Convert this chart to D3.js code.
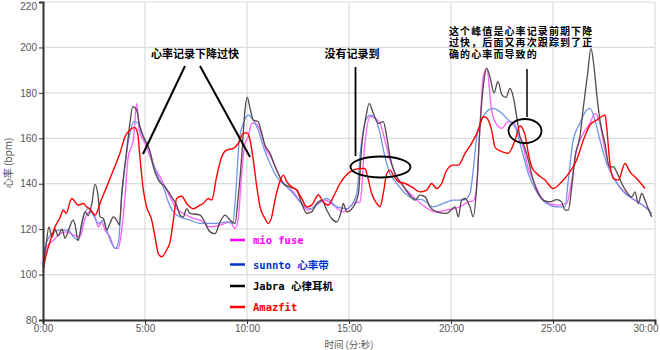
<!DOCTYPE html>
<html><head><meta charset="utf-8">
<script src="https://cdn.jsdelivr.net/npm/d3@7"></script>
<style>
html,body{margin:0;padding:0;background:#fff;}
svg{display:block;}
</style></head>
<body>
<svg id="chart" width="660" height="350"></svg>
<script>
// ---- data (time in minutes, heart rate in bpm) ----
const seriesNames = ["mio fuse", "sunnto 心率带", "Jabra 心律耳机", "Amazfit"];
const xTickValues = [0, 5, 10, 15, 20, 25, 30];
const yTickValues = [80, 100, 120, 140, 160, 180, 200, 220];

const mioFuse = [[0,103],[0.18,112],[0.5,115],[0.83,118],[1.16,118.8],[1.49,117.4],[1.81,116.6],[2.06,124.7],[2.3,127.6],[2.55,125.4],[2.71,121],[2.88,123.2],[3.04,119.6],[3.28,116.6],[3.53,111.5],[3.69,111.5],[3.86,119.6],[4.02,134.2],[4.18,151.9],[4.43,159.2],[4.59,175.4],[4.72,163.6],[5.0,157.8],[5.25,151.9],[5.49,146.7],[5.74,143],[5.98,138.6],[6.23,134.2],[6.55,129],[6.88,126.9],[7.37,124.7],[7.7,124],[8.19,121],[8.68,121.8],[9.17,123.2],[9.41,120.3],[9.57,124.7],[9.74,144.5],[9.9,157.8],[10.06,160.7],[10.23,166.6],[10.39,166.6],[10.64,163.6],[10.88,156.3],[11.21,151.1],[11.53,144.5],[11.95,138.6],[12.27,136.4],[12.6,132],[13.01,128.4],[13.42,130.6],[13.82,132.8],[14.23,130.6],[14.72,127.6],[15.21,131.3],[15.54,132],[15.78,157.8],[16.03,169.5],[16.27,168.8],[16.52,166.6],[16.76,159.2],[17.01,150.4],[17.34,143],[17.75,137.9],[18.24,133.5],[18.73,129.8],[19.22,127.6],[19.79,128.4],[20.44,129.8],[20.85,132],[21.09,132.5],[21.26,138.6],[21.42,165],[21.58,187.1],[21.75,190.8],[21.99,172.4],[22.24,166],[22.49,164.4],[22.81,167.3],[23.05,167],[23.3,162.2],[23.54,156.3],[23.79,146.7],[24.03,141.6],[24.36,135],[24.77,131.3],[25.25,130.6],[25.67,131.3],[25.92,141.6],[26.16,154.8],[26.49,162.2],[26.81,166.6],[27.06,171],[27.3,166.6],[27.55,154.8],[27.88,144.5],[28.28,138.6],[28.77,134.2],[29.26,131.3],[29.75,128.4]];

const sunnto = [[0,104],[0.1,112],[0.43,118],[0.83,119.6],[1.24,119.6],[1.49,116.6],[1.73,115.2],[1.98,125.4],[2.22,129],[2.47,126.2],[2.71,122.5],[2.96,124],[3.12,119.6],[3.37,113.7],[3.53,111.5],[3.69,113.7],[3.86,134.2],[4.07,151.9],[4.26,162.2],[4.46,167.3],[4.67,166.6],[4.92,160.7],[5.16,156.3],[5.41,148.9],[5.65,143],[5.9,138.6],[6.14,132],[6.39,127.6],[6.72,125.4],[7.21,124],[7.7,122.5],[8.51,122.5],[9.0,123.2],[9.3,122.5],[9.46,137.2],[9.62,159.2],[9.82,166.6],[10.06,170.2],[10.31,168],[10.55,163.6],[10.8,156.3],[11.13,148.9],[11.46,143],[11.86,139.4],[12.27,135.7],[12.68,131.3],[13.09,129],[13.58,132],[13.91,133.5],[14.4,129.8],[14.89,129],[15.05,129.8],[15.38,135.7],[15.57,154.8],[15.78,166.6],[16.03,170.2],[16.27,169],[16.52,162.2],[16.76,151.9],[17.01,144.5],[17.34,140.1],[17.75,135.7],[18.15,133.5],[18.64,132.8],[19.13,129.8],[19.62,131.3],[20.11,132.8],[20.6,132.8],[20.93,135.7],[21.09,146],[21.26,160.7],[21.5,168],[21.83,172.4],[22.07,173.2],[22.4,171.7],[22.81,168],[23.14,165],[23.47,154.8],[23.79,144.5],[24.2,136.4],[24.69,131.3],[25.18,129.8],[25.59,129.8],[25.75,141.6],[25.99,159.2],[26.32,166.6],[26.65,172.4],[26.81,173.2],[27.06,168],[27.3,159.2],[27.63,149],[28.04,141.6],[28.53,135.7],[29.02,132.8],[29.51,129.8],[29.84,126.9]];

const jabra = [[0,103],[0.15,113],[0.29,121],[0.44,116.5],[0.59,120],[0.74,117],[0.93,120],[1.08,116],[1.27,120],[1.47,124],[1.57,122],[1.72,115],[1.9,122.6],[2.06,127.6],[2.22,126],[2.39,131],[2.55,139.7],[2.71,134],[2.79,125.4],[2.96,124.7],[3.12,119.6],[3.28,122.5],[3.45,125.4],[3.61,124],[3.74,121.8],[3.86,135.7],[4.07,151.9],[4.26,166.6],[4.4,173.9],[4.59,172.4],[4.75,165],[5.0,159.2],[5.25,154],[5.41,147.4],[5.65,141.6],[5.98,138.6],[6.31,134.2],[6.55,130.6],[6.72,126.2],[6.88,125.4],[7.04,129],[7.21,126.9],[7.7,126.2],[8.19,118.8],[8.43,118],[8.68,123.2],[8.92,126.2],[9.17,124],[9.41,122.5],[9.57,134.2],[9.74,151.9],[9.9,172.4],[10.01,178],[10.15,173.2],[10.31,168],[10.55,167.3],[10.72,162.2],[10.88,157],[11.13,153.4],[11.29,149.6],[11.53,144.5],[11.78,140.1],[12.11,138.6],[12.44,137.2],[12.68,131.3],[12.93,127],[13.17,127.6],[13.42,131.3],[13.66,132.8],[13.91,128.4],[14.15,124.7],[14.4,123.2],[14.64,128.4],[14.72,131.3],[14.89,127.6],[15.21,129.8],[15.46,135.7],[15.62,156.3],[15.83,169.5],[15.99,175.4],[16.19,171],[16.44,166.6],[16.68,167.3],[16.85,160.7],[17.01,151.9],[17.25,144.5],[17.58,140.1],[17.91,135.7],[18.24,132.8],[18.48,135],[18.73,134.2],[18.97,129.8],[19.3,127.6],[19.79,126.9],[20.2,129.8],[20.36,125.4],[20.52,132.8],[20.69,133.5],[20.93,129.8],[21.09,125.4],[21.26,138.6],[21.42,165],[21.62,185.6],[21.75,190.8],[21.91,187],[22.11,180],[22.3,185],[22.5,179],[22.7,178],[22.89,182],[23.05,178.3],[23.22,169.5],[23.38,160.7],[23.54,157.7],[23.79,150.4],[24.03,141.6],[24.28,135.7],[24.52,132.8],[24.85,132],[25.18,133],[25.42,132],[25.59,128.4],[25.75,128.4],[25.92,138.6],[26.08,151.9],[26.32,160.7],[26.49,173.9],[26.7,188.6],[26.86,199.6],[27.01,191.5],[27.14,179.8],[27.3,168],[27.55,157.7],[27.76,147.4],[27.96,147.4],[28.12,145.2],[28.37,140.1],[28.61,136.4],[28.86,134.2],[29.02,136.4],[29.18,131.3],[29.35,135.7],[29.51,132.8],[29.67,129],[29.84,125.4]];

const amazfit = [[0,101],[0.1,106.4],[0.26,112],[0.43,117],[0.59,121],[0.83,125],[1.0,128.4],[1.13,127],[1.41,133.5],[1.73,130.6],[1.98,131.3],[2.14,129.8],[2.3,129],[2.55,126.2],[2.63,127],[2.79,131.3],[3.12,138.6],[3.45,146],[3.77,153.4],[4.02,160.7],[4.26,163.6],[4.48,164.8],[4.64,162.2],[4.75,151.9],[4.92,137.2],[5.08,129.8],[5.33,124],[5.49,116.6],[5.65,109.3],[5.82,107.8],[6.06,110.8],[6.23,114.4],[6.39,124],[6.55,133.5],[6.8,134.5],[7.04,131.3],[7.37,129],[7.7,130.6],[7.86,131.3],[8.1,133.5],[8.27,132.8],[8.51,143],[8.76,151.9],[9.0,154.8],[9.33,155.6],[9.57,157.7],[9.82,162.2],[10.01,162.4],[10.15,159.2],[10.31,150.4],[10.48,138.6],[10.64,129.8],[10.88,124.7],[11.04,122.5],[11.21,125.4],[11.37,132.8],[11.58,140.1],[11.78,143.8],[11.95,140.9],[12.19,138.6],[12.44,137.2],[12.68,133.5],[12.93,129.8],[13.17,130.6],[13.5,135],[13.74,132],[13.99,130.6],[14.23,134.2],[14.56,140.1],[15.05,145.2],[15.54,146.7],[15.78,146.7],[15.95,141.6],[16.11,135.7],[16.36,131.3],[16.52,129.8],[16.68,135.7],[16.85,144.5],[17.01,146],[17.17,143.8],[17.42,140.9],[17.75,140.1],[18.07,138.6],[18.48,136.4],[18.81,137.2],[19.05,140.1],[19.3,137.9],[19.54,140.1],[19.79,146],[20.11,148.2],[20.36,148.2],[20.69,153.4],[21.01,157.8],[21.34,163.6],[21.58,169.5],[21.75,169],[21.99,163.6],[22.16,156],[22.49,154.1],[22.81,153.4],[23.14,159.2],[23.38,165.4],[23.63,161.4],[23.79,153.4],[23.96,147.4],[24.2,144.5],[24.61,141.6],[25.01,137.9],[25.43,140.9],[25.83,145.2],[26.16,150.4],[26.49,159.2],[26.81,165.8],[27.14,168],[27.55,170.2],[27.63,165],[27.79,148.9],[27.96,142.3],[28.2,141.6],[28.53,148.9],[28.77,145.2],[29.1,142.3],[29.51,137.9]];

const lineColors = ["#ff5cff", "#6f94e8", "#554848", "#ff0000"];
const legendColors = ["#ff00ff", "#0033cc", "#000000", "#ff0000"];

// ---- annotations ----
const note1 = "心率记录下降过快";
const note2 = "没有记录到";
const note3 = ["这个峰值是心率记录前期下降", "过快，后面又再次跟踪到了正", "确的心率而导致的"];

// ---- drawing ----
const svg = d3.select("#chart");
const x = d3.scaleLinear().domain([0, 30]).range([43, 655]);
const y = d3.scaleLinear().domain([80, 220]).range([320, 2]);

// grid
svg.append("g").selectAll("line").data(yTickValues).join("line")
  .attr("x1", x(0)).attr("x2", x(30))
  .attr("y1", d => y(d)).attr("y2", d => y(d))
  .attr("stroke", "#dcdcdc").attr("stroke-width", 1.2);
svg.append("g").selectAll("line").data(xTickValues.slice(1)).join("line")
  .attr("x1", d => x(d)).attr("x2", d => x(d))
  .attr("y1", y(80)).attr("y2", y(220))
  .attr("stroke", "#dcdcdc").attr("stroke-width", 1.2);

// series
const line = d3.line().x(d => x(d[0])).y(d => y(d[1])).curve(d3.curveMonotoneX);
const allSeries = [mioFuse, sunnto, jabra, amazfit];
svg.append("g").selectAll("path").data(allSeries).join("path")
  .attr("d", d => line(d))
  .attr("fill", "none")
  .attr("stroke", (d, i) => lineColors[i])
  .attr("stroke-width", (d, i) => i === 3 ? 1.4 : 1.3);

// axes
const fmt = d => d + ":00";
const xAxis = svg.append("g").attr("transform", `translate(0,${y(80)})`)
  .call(d3.axisBottom(x).tickValues(xTickValues).tickFormat(fmt).tickSize(4).tickPadding(1));
const yAxis = svg.append("g").attr("transform", `translate(${x(0)},0)`)
  .call(d3.axisLeft(y).tickValues(yTickValues).tickSize(4).tickPadding(2));
[xAxis, yAxis].forEach(a => {
  a.select(".domain").attr("stroke", "#333").attr("stroke-width", 2);
  a.selectAll(".tick line").attr("stroke", "#333");
  a.selectAll("text").attr("fill", "#555").style("font-family", "'Liberation Sans', Arial, sans-serif").style("font-size", "10px");
});
// keep end labels inside the picture
xAxis.selectAll(".tick text").filter(d => d === 30).attr("text-anchor", "end").attr("dx", "3px");
yAxis.selectAll(".tick text").filter(d => d === 220).attr("dy", "0.75em");

svg.append("text").attr("x", 349).attr("y", 348).attr("text-anchor", "middle")
  .attr("fill", "#555").style("font-family", "'Noto Sans CJK SC', sans-serif").style("font-size", "9.5px")
  .text("时间 (分:秒)");
svg.append("text").attr("transform", "translate(12,163) rotate(-90)").attr("text-anchor", "middle")
  .attr("fill", "#555").style("font-family", "'Noto Sans CJK SC', sans-serif").style("font-size", "10px")
  .text("心率 (bpm)");

// legend
const legend = svg.append("g").selectAll("g").data(seriesNames).join("g")
  .attr("transform", (d, i) => `translate(230,${[240, 264.5, 286, 307][i]})`);
legend.append("line").attr("x1", 0).attr("x2", 15).attr("y1", 0).attr("y2", 0)
  .attr("stroke", (d, i) => legendColors[i]).attr("stroke-width", 2.5);
legend.append("text").attr("x", 23).attr("y", 4)
  .attr("fill", (d, i) => legendColors[i])
  .style("font-family", "'DejaVu Sans Mono', 'Noto Sans CJK SC', monospace")
  .style("font-size", "10.5px").style("font-weight", "bold")
  .text(d => d);

// annotations
const ann = svg.append("g").style("font-family", "'Noto Sans CJK SC', sans-serif")
  .style("font-weight", "bold").attr("fill", "#000");
ann.append("text").attr("x", 195).attr("y", 58).attr("text-anchor", "middle").style("font-size", "11px").text(note1);
ann.append("text").attr("x", 352).attr("y", 58).attr("text-anchor", "middle").style("font-size", "11px").text(note2);
const multi = ann.append("text").attr("x", 449).attr("y", 34.5)
  .style("font-size", "10px").style("letter-spacing", "1.1px");
note3.forEach((t, i) => multi.append("tspan").attr("x", 449).attr("dy", i === 0 ? 0 : 11.5).text(t));

const strokes = svg.append("g").attr("stroke", "#000").attr("fill", "none");
strokes.append("line").attr("x1", 185).attr("y1", 66).attr("x2", 143).attr("y2", 154).attr("stroke-width", 2);
strokes.append("line").attr("x1", 200).attr("y1", 66).attr("x2", 250).attr("y2", 157).attr("stroke-width", 2);
strokes.append("line").attr("x1", 355.5).attr("y1", 67).attr("x2", 355.5).attr("y2", 156).attr("stroke-width", 1.8);
strokes.append("ellipse").attr("cx", 380.5).attr("cy", 167).attr("rx", 30).attr("ry", 10.5).attr("stroke-width", 1.8);
strokes.append("line").attr("x1", 527).attr("y1", 69).attr("x2", 527).attr("y2", 117).attr("stroke-width", 1.5);
strokes.append("ellipse").attr("cx", 525).attr("cy", 131).attr("rx", 16.5).attr("ry", 12).attr("stroke-width", 1.8);
</script>
</body></html>
